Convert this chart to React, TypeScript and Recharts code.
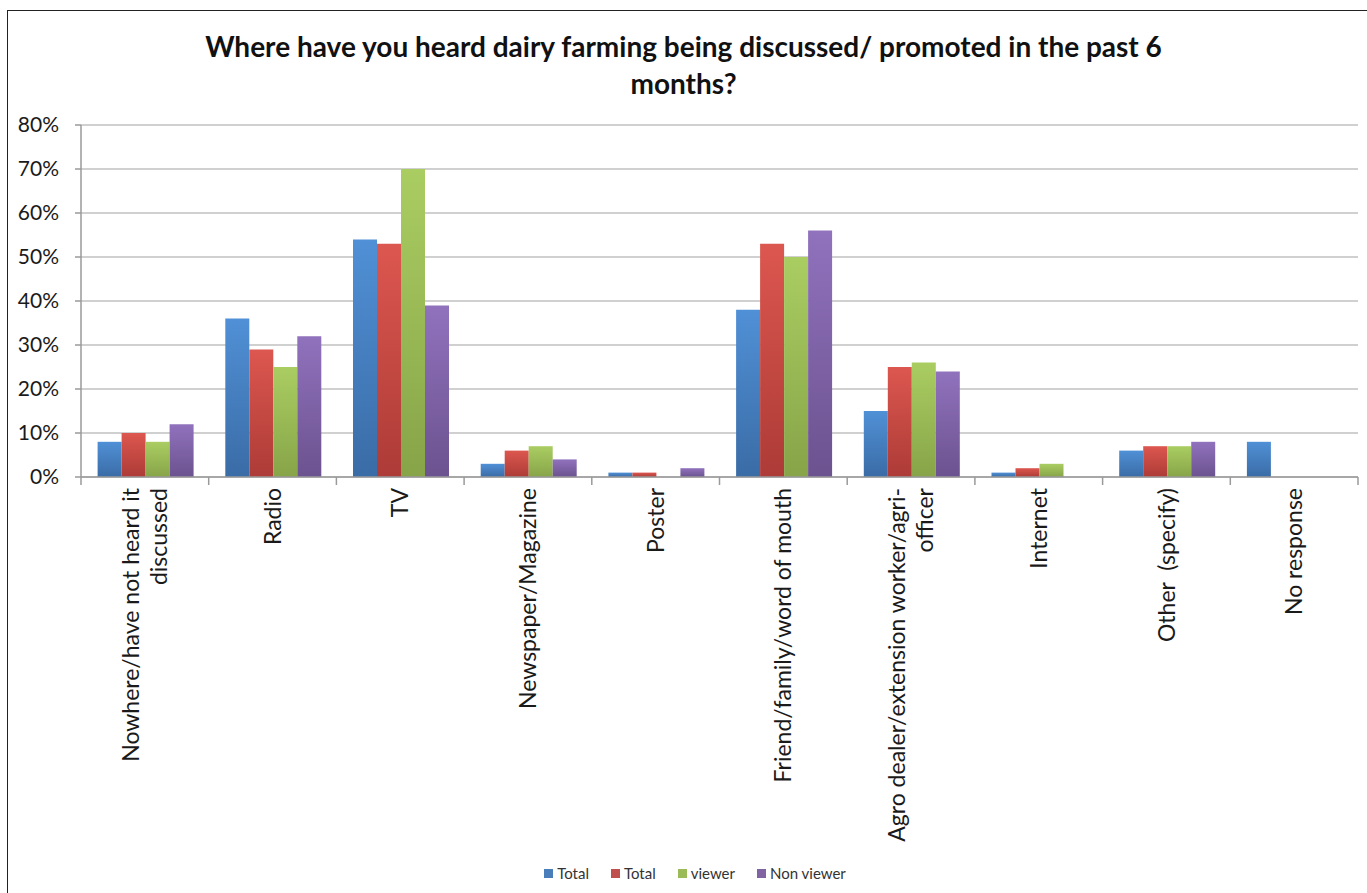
import React from "react";
import { BarChart, Bar, XAxis, YAxis, CartesianGrid } from "recharts";

// categories on the x axis ("\n" marks the wrapped second line)
const CATEGORIES = [
  "Nowhere/have not heard it\ndiscussed",
  "Radio",
  "TV",
  "Newspaper/Magazine",
  "Poster",
  "Friend/family/word of mouth",
  "Agro dealer/extension worker/agri-\nofficer",
  "Internet",
  "Other  (specify)",
  "No response",
];

// percentages
const TOTAL_A = [8, 36, 54, 3, 1, 38, 15, 1, 6, 8];
const TOTAL_B = [10, 29, 53, 6, 1, 53, 25, 2, 7, 0];
const VIEWER = [8, 25, 70, 7, 0, 50, 26, 3, 7, 0];
const NON_VIEWER = [12, 32, 39, 4, 2, 56, 24, 0, 8, 0];

const Y_TICKS = [0, 10, 20, 30, 40, 50, 60, 70, 80];

const SERIES = [
  { key: "totalA", name: "Total", values: TOTAL_A, top: "#5090d6", bottom: "#3a6ca6", swatch: "#4a7ebb" },
  { key: "totalB", name: "Total", values: TOTAL_B, top: "#dc574f", bottom: "#ad3b37", swatch: "#c0504d" },
  { key: "viewer", name: "viewer", values: VIEWER, top: "#aacd62", bottom: "#87a448", swatch: "#9bbb59" },
  { key: "nonViewer", name: "Non viewer", values: NON_VIEWER, top: "#9072bd", bottom: "#6c528f", swatch: "#8064a2" },
];

const data = CATEGORIES.map((name, i) => {
  const row: Record<string, string | number> = { name };
  SERIES.forEach((s) => {
    row[s.key] = s.values[i];
  });
  return row;
});

const FONT = "Lato, 'Open Sans', sans-serif";
const AXIS = "#9a9a9a";
const GRID = "#c0c0c0";

function CategoryTick(props: any) {
  const { x, y, payload, index } = props;
  const half = payload.offset || 64;
  const lines = String(payload.value).split("\n");
  const lh = 28;
  return (
    <g>
      <line x1={x - half} x2={x - half} y1={y} y2={y + 8} stroke={AXIS} strokeWidth={1.5} />
      {index === CATEGORIES.length - 1 && (
        <line x1={x + half} x2={x + half} y1={y} y2={y + 8} stroke={AXIS} strokeWidth={1.5} />
      )}
      <text
        transform={`translate(${x},${y + 11}) rotate(-90)`}
        textAnchor="end"
        fontFamily={FONT}
        fontSize={23}
        fill="#1a1a1a"
        style={{ whiteSpace: "pre" }}
      >
        {lines.map((line, i) => (
          <tspan key={i} x={0} y={(i - (lines.length - 1) / 2) * lh} dy="0.35em">
            {line}
          </tspan>
        ))}
      </text>
    </g>
  );
}

export default function App() {
  return (
    <div
      style={{
        position: "absolute",
        left: 0,
        top: 0,
        width: 1367,
        height: 893,
        overflow: "hidden",
        background: "#fff",
        fontFamily: FONT,
      }}
    >
      <div
        style={{
          position: "absolute",
          left: 7,
          top: 10,
          width: 1360,
          height: 900,
          border: "1.5px solid #222",
        }}
      />
      <div
        style={{
          position: "absolute",
          left: 0,
          top: 28,
          width: 1367,
          textAlign: "center",
          fontWeight: 700,
          fontSize: 28,
          lineHeight: "37px",
          color: "#111",
        }}
      >
        Where have you heard dairy farming being discussed/ promoted in the past 6
        <br />
        months?
      </div>

      <div style={{ position: "absolute", left: 0, top: 0 }}>
        <BarChart
          width={1367}
          height={893}
          data={data}
          margin={{ top: 125, right: 9, left: 0, bottom: 0 }}
          barCategoryGap="13%"
          barGap={0}
        >
          <defs>
            {SERIES.map((s) => (
              <linearGradient key={s.key} id={`grad-${s.key}`} x1="0" y1="0" x2="0" y2="1">
                <stop offset="0%" stopColor={s.top} />
                <stop offset="100%" stopColor={s.bottom} />
              </linearGradient>
            ))}
          </defs>
          <CartesianGrid vertical={false} stroke={GRID} strokeWidth={1.5} />
          <XAxis
            dataKey="name"
            interval={0}
            height={416}
            tickSize={0}
            tickMargin={0}
            tickLine={false}
            axisLine={{ stroke: AXIS, strokeWidth: 1.5 }}
            tick={<CategoryTick />}
          />
          <YAxis
            width={81}
            domain={[0, 80]}
            ticks={Y_TICKS}
            interval={0}
            tickFormatter={(v) => `${v}%`}
            tickSize={6}
            tickMargin={16}
            tickLine={{ stroke: AXIS, strokeWidth: 1.5 }}
            axisLine={{ stroke: AXIS, strokeWidth: 1.5 }}
            tick={{ fontSize: 21, fill: "#1a1a1a", fontFamily: FONT }}
          />
          {SERIES.map((s) => (
            <Bar
              key={s.key}
              dataKey={s.key}
              name={s.name}
              fill={`url(#grad-${s.key})`}
              isAnimationActive={false}
            />
          ))}
        </BarChart>
      </div>

      {/* legend */}
      <div
        style={{
          position: "absolute",
          left: 0,
          top: 864,
          width: 1390,
          display: "flex",
          justifyContent: "center",
          gap: 22,
          fontSize: 15,
          color: "#333",
        }}
      >
        {SERIES.map((s) => (
          <div key={s.key} style={{ display: "flex", alignItems: "center", gap: 4 }}>
            <span style={{ width: 9, height: 9, background: s.swatch, display: "inline-block" }} />
            <span>{s.name}</span>
          </div>
        ))}
      </div>
    </div>
  );
}
